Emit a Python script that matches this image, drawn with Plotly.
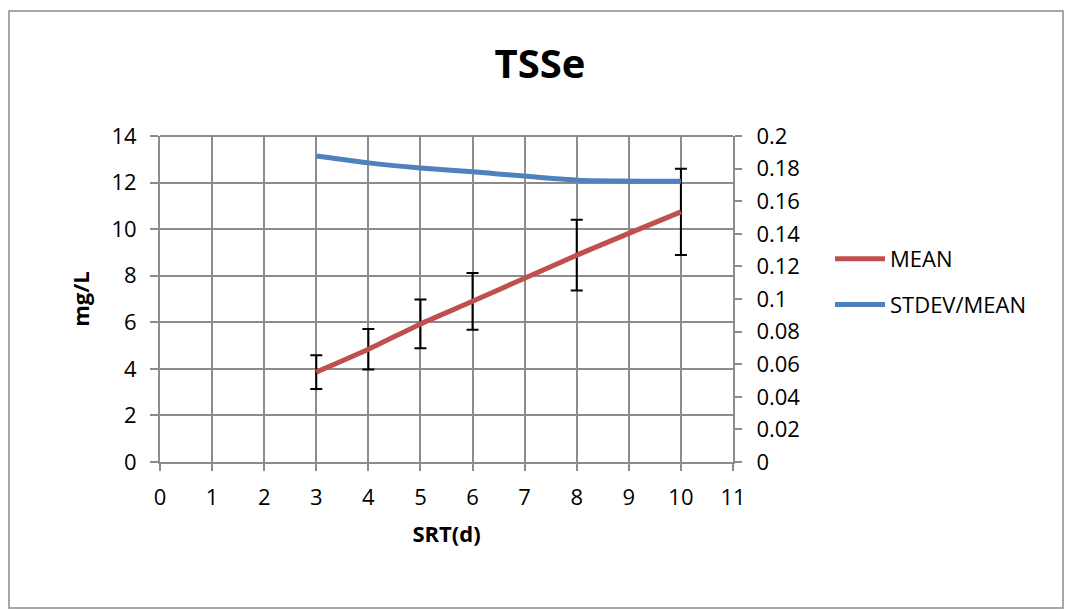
import plotly.graph_objects as go

# SRT (days) and effluent TSS statistics
srt = [3, 4, 5, 6, 8, 10]
mean_mg_l = [3.86, 4.84, 5.93, 6.90, 8.88, 10.74]
stdev_mg_l = [0.72, 0.87, 1.05, 1.22, 1.52, 1.85]
cv = [0.1877, 0.1835, 0.1804, 0.1780, 0.1729, 0.1723]

x_ticks = list(range(0, 12))
y_left_ticks = list(range(0, 15, 2))
y_right_ticks = [0, 0.02, 0.04, 0.06, 0.08, 0.1, 0.12, 0.14, 0.16, 0.18, 0.2]
y_right_labels = ["0", "0.02", "0.04", "0.06", "0.08", "0.1", "0.12", "0.14", "0.16", "0.18", "0.2"]

FONT = "Open Sans"
GRID = "#8c8c8c"
TICK_SIZE = 22

fig = go.Figure()

fig.add_trace(go.Scatter(
    x=srt, y=mean_mg_l, name="MEAN", mode="lines",
    line=dict(color="#C0504D", width=5, shape="spline", smoothing=0.6),
    error_y=dict(type="data", array=stdev_mg_l, visible=True,
                 color="black", thickness=2, width=6),
    legendgroup="a",
))
fig.add_trace(go.Scatter(
    x=srt, y=cv, name="STDEV/MEAN", mode="lines", yaxis="y2",
    line=dict(color="#4F81BD", width=5, shape="spline", smoothing=0.6),
    legendgroup="b",
))

L, R, T, B = 160, 1071 - 733, 136, 611 - 462
pw = 1071 - L - R
ph = 611 - T - B

def px_x(p):
    return (p - L) / pw

def px_y(p):
    return (611 - B - p) / ph

fig.update_layout(
    width=1071, height=611,
    margin=dict(l=L, r=R, t=T, b=B),
    paper_bgcolor="white", plot_bgcolor="white",
    font=dict(family=FONT, size=TICK_SIZE, color="black"),
    title=dict(text="<b>TSSe</b>", xref="container", x=540 / 1071, xanchor="center",
               yref="container", y=1 - 64 / 611, yanchor="middle",
               font=dict(family=FONT, size=40, color="black")),
    xaxis=dict(
        range=[0, 11], tickvals=x_ticks, ticktext=[str(v) for v in x_ticks],
        tickfont=dict(size=TICK_SIZE),
        showgrid=True, gridcolor=GRID, gridwidth=2,
        showline=True, linecolor=GRID, linewidth=2,
        ticks="outside", ticklen=7, tickwidth=2, tickcolor=GRID,
        ticklabelstandoff=8, zeroline=False,
        title=dict(text="<b>SRT(d)</b>", font=dict(size=22), standoff=16),
    ),
    yaxis=dict(
        range=[0, 14], tickvals=y_left_ticks, ticktext=[str(v) for v in y_left_ticks],
        tickfont=dict(size=TICK_SIZE),
        showgrid=True, gridcolor=GRID, gridwidth=2,
        showline=True, linecolor=GRID, linewidth=2, mirror=False,
        ticks="outside", ticklen=8, tickwidth=2, tickcolor=GRID,
        ticklabelstandoff=9, zeroline=False,
        title=dict(text="<b>mg/L</b>", font=dict(size=22), standoff=16),
    ),
    yaxis2=dict(
        range=[0, 0.2], overlaying="y", side="right",
        tickvals=y_right_ticks, ticktext=y_right_labels,
        tickfont=dict(size=TICK_SIZE),
        showgrid=False, showline=True, linecolor=GRID, linewidth=2,
        ticks="outside", ticklen=7, tickwidth=2, tickcolor=GRID,
        ticklabelstandoff=10, zeroline=False,
    ),
    legend=dict(
        x=px_x(830), xanchor="left", y=px_y(282), yanchor="middle",
        font=dict(family=FONT, size=TICK_SIZE), tracegroupgap=14,
        itemwidth=50, bgcolor="rgba(0,0,0,0)",
    ),
    showlegend=True,
    shapes=[
        # top edge of plot area
        dict(type="line", xref="paper", yref="paper", x0=0, x1=1, y0=1, y1=1,
             line=dict(color=GRID, width=2), layer="below"),
        # chart frame
        dict(type="rect", xref="paper", yref="paper",
             x0=px_x(9), x1=px_x(1063), y0=px_y(608), y1=px_y(11),
             line=dict(color="#8c8c8c", width=1.5), fillcolor="rgba(0,0,0,0)"),
    ],
)

fig.write_html("out.html")
